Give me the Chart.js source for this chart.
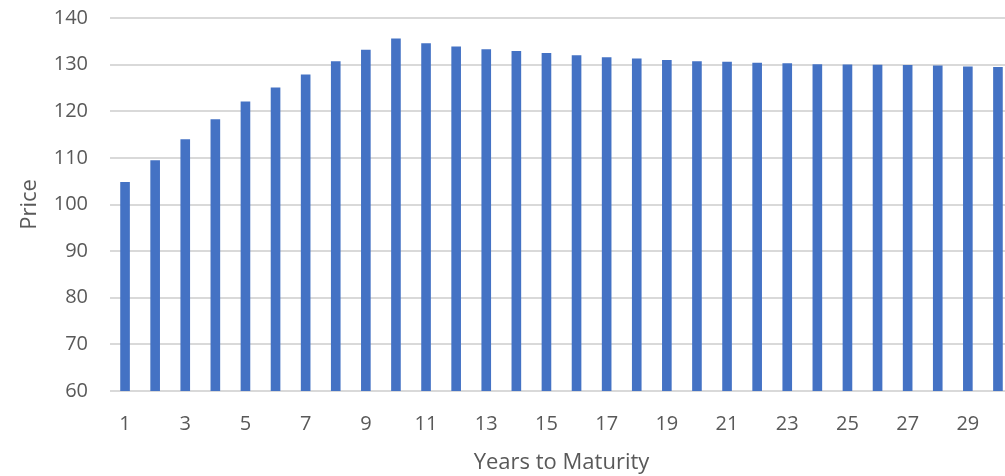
<!DOCTYPE html>
<html>
<head>
<meta charset="utf-8">
<script src="https://cdn.jsdelivr.net/npm/chart.js@4"></script>
<style>
  html, body { margin: 0; padding: 0; background: #fff; overflow: hidden; }
  .chart-wrap { position: relative; width: 1013px; height: 476px; }
</style>
</head>
<body>
<div class="chart-wrap"><canvas id="priceChart"></canvas></div>
<script>
const years = Array.from({ length: 30 }, (_, i) => String(i + 1));

const prices = [
  104.8, 109.5, 114.0, 118.3, 122.1, 125.1, 127.9, 130.7, 133.2, 135.6,
  134.6, 133.9, 133.3, 132.9, 132.5, 132.0, 131.6, 131.3, 131.0, 130.7,
  130.6, 130.4, 130.3, 130.1, 130.05, 130.0, 129.9, 129.8, 129.6, 129.5,
];

const yTicks = [60, 70, 80, 90, 100, 110, 120, 130, 140];

const TEXT = '#595959';
const FONT = { family: '"Open Sans", sans-serif', size: 20 };
const TITLE_FONT = { family: '"Open Sans", sans-serif', size: 22 };

new Chart(document.getElementById('priceChart'), {
  type: 'bar',
  data: {
    labels: years,
    datasets: [{
      label: 'Price',
      data: prices,
      backgroundColor: '#4472c4',
      borderWidth: 0,
      categoryPercentage: 1,
      barPercentage: 0.32,
    }],
  },
  options: {
    responsive: true,
    maintainAspectRatio: false,
    animation: false,
    layout: { padding: { top: 18, left: 0, right: 0, bottom: 0 } },
    plugins: {
      legend: { display: false },
      tooltip: { enabled: false },
    },
    scales: {
      x: {
        grid: { display: false },
        border: { display: false },
        afterFit(scale) { scale.height = 85; },
        ticks: {
          color: TEXT,
          font: FONT,
          padding: 13,
          autoSkip: false,
          maxRotation: 0,
          callback(value, index) {
            return index % 2 === 0 ? years[index] : '';
          },
        },
        title: {
          display: true,
          text: 'Years to Maturity',
          color: TEXT,
          font: TITLE_FONT,
          padding: { top: 0, bottom: 0 },
        },
      },
      y: {
        min: yTicks[0],
        max: yTicks[yTicks.length - 1],
        afterFit(scale) {
          // fixed axis width; label overhang is covered by layout padding
          scale.width = 110;
          scale.paddingTop = 0;
          scale.paddingBottom = 0;
        },
        afterBuildTicks(scale) {
          scale.ticks = yTicks.map((v) => ({ value: v }));
        },
        grid: { color: '#d9d9d9', lineWidth: 2, drawTicks: false },
        border: { display: false },
        ticks: { color: TEXT, font: FONT, padding: 22 },
        title: {
          display: true,
          text: 'Price',
          color: TEXT,
          font: TITLE_FONT,
          padding: { top: 17, bottom: 0 },
        },
      },
    },
  },
});
</script>
</body>
</html>
